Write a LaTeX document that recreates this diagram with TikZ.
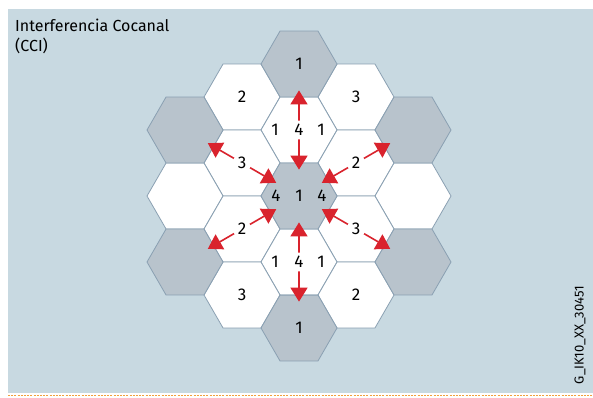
\documentclass[tikz,border=0pt]{standalone}
\usepackage{fontspec}
\setmainfont{Fira Sans}
\usepackage{tikz}
\usetikzlibrary{calc}
\usetikzlibrary{shapes.geometric}
\usetikzlibrary{arrows.meta}
\definecolor{panel}{HTML}{C8D9E1}
\definecolor{hexgray}{HTML}{B8C3CC}
\definecolor{hexline}{HTML}{8AA0B2}
\definecolor{arrred}{HTML}{D9232D}
\definecolor{rule}{HTML}{F2A03C}
\begin{document}
\begin{tikzpicture}[x=1pt,y=-1pt,
  cell/.style={regular polygon,regular polygon sides=6,minimum size=76pt,inner sep=0pt,outer sep=0pt,
    draw=hexline,line width=.8pt,fill=white},
  cochannel/.style={cell,fill=hexgray},
  link/.style={draw=arrred,line width=1.6pt,{Triangle[length=14pt,width=17pt]}-{Triangle[length=14pt,width=17pt]}},
  num/.style={font=\fontsize{17}{17}\selectfont,inner sep=1pt},
  tag/.style={num,circle,fill=white,inner sep=1.5pt}]
% ---- lattice: centre column x = 299, column step 57, half height 33
\def\xa{185} \def\xb{242} \def\xc{299} \def\xd{356} \def\xe{413}
\def\ya{64}  \def\yb{97}  \def\yc{130} \def\yd{163} \def\ye{196}
\def\yf{229} \def\yg{262} \def\yh{295} \def\yi{328}
% ---- frame
\useasboundingbox (0,0) rectangle (593,397);
\fill[panel] (8,9) rectangle (593,393);
\draw[rule,line width=1.5pt,dash pattern=on 2pt off 1.2pt] (8,395.5) -- (593,395.5);
\node[anchor=north west,inner sep=0pt,align=left,font=\fontsize{16}{20}\selectfont] (title) at (15,19)
  {Interferencia Cocanal\\(CCI)};
\node[rotate=90,font=\fontsize{13}{13}\selectfont,inner sep=0pt] (code) at (580,335) {G\_IK10\_XX\_30451};
% ---- white cells
\node[cell] (nw) at (\xb,\yb) {};
\node[cell] (ne) at (\xd,\yb) {};
\node[cell] (n)  at (\xc,\yc) {};
\node[cell] (wn) at (\xb,\yd) {};
\node[cell] (en) at (\xd,\yd) {};
\node[cell] (w)  at (\xa,\ye) {};
\node[cell] (e)  at (\xe,\ye) {};
\node[cell] (ws) at (\xb,\yf) {};
\node[cell] (es) at (\xd,\yf) {};
\node[cell] (s)  at (\xc,\yg) {};
\node[cell] (sw) at (\xb,\yh) {};
\node[cell] (se) at (\xd,\yh) {};
% ---- co-channel cells
\node[cochannel] (c)   at (\xc,\ye) {};
\node[cochannel] (cn)  at (\xc,\ya) {};
\node[cochannel] (cs)  at (\xc,\yi) {};
\node[cochannel] (cnw) at (\xa,\yc) {};
\node[cochannel] (csw) at (\xa,\yg) {};
\node[cochannel] (cne) at (\xe,\yc) {};
\node[cochannel] (cse) at (\xe,\yg) {};
% ---- interference paths
\foreach \far in {cn,cs,cnw,csw,cne,cse}
  \draw[link] ($(c)!0.2!(\far)$) -- ($(c)!0.8!(\far)$);
% ---- path labels
\node[tag] (tn)  at (n)  {4};
\node[tag] (ts)  at (s)  {4};
\node[tag] (tnw) at (wn) {3};
\node[tag] (tne) at (en) {2};
\node[tag] (tsw) at (ws) {2};
\node[tag] (tse) at (es) {3};
% ---- cell numbers
\node[num] (lcn) at (cn) {1};
\node[num] (lcs) at (cs) {1};
\node[num] (lnw) at (nw) {2};
\node[num] (lne) at (ne) {3};
\node[num] (lsw) at (sw) {3};
\node[num] (lse) at (se) {2};
\node[num] (lc)  at (c)  {1};
\node[num] (lcw) at ($(c)+(-23,0)$) {4};
\node[num] (lce) at ($(c)+(23,0)$)  {4};
\node[num] (lnw1) at ($(n)+(-24,0)$) {1};
\node[num] (lne1) at ($(n)+(22,0)$)  {1};
\node[num] (lsw1) at ($(s)+(-24,0)$) {1};
\node[num] (lse1) at ($(s)+(22,0)$)  {1};
\end{tikzpicture}
\end{document}
